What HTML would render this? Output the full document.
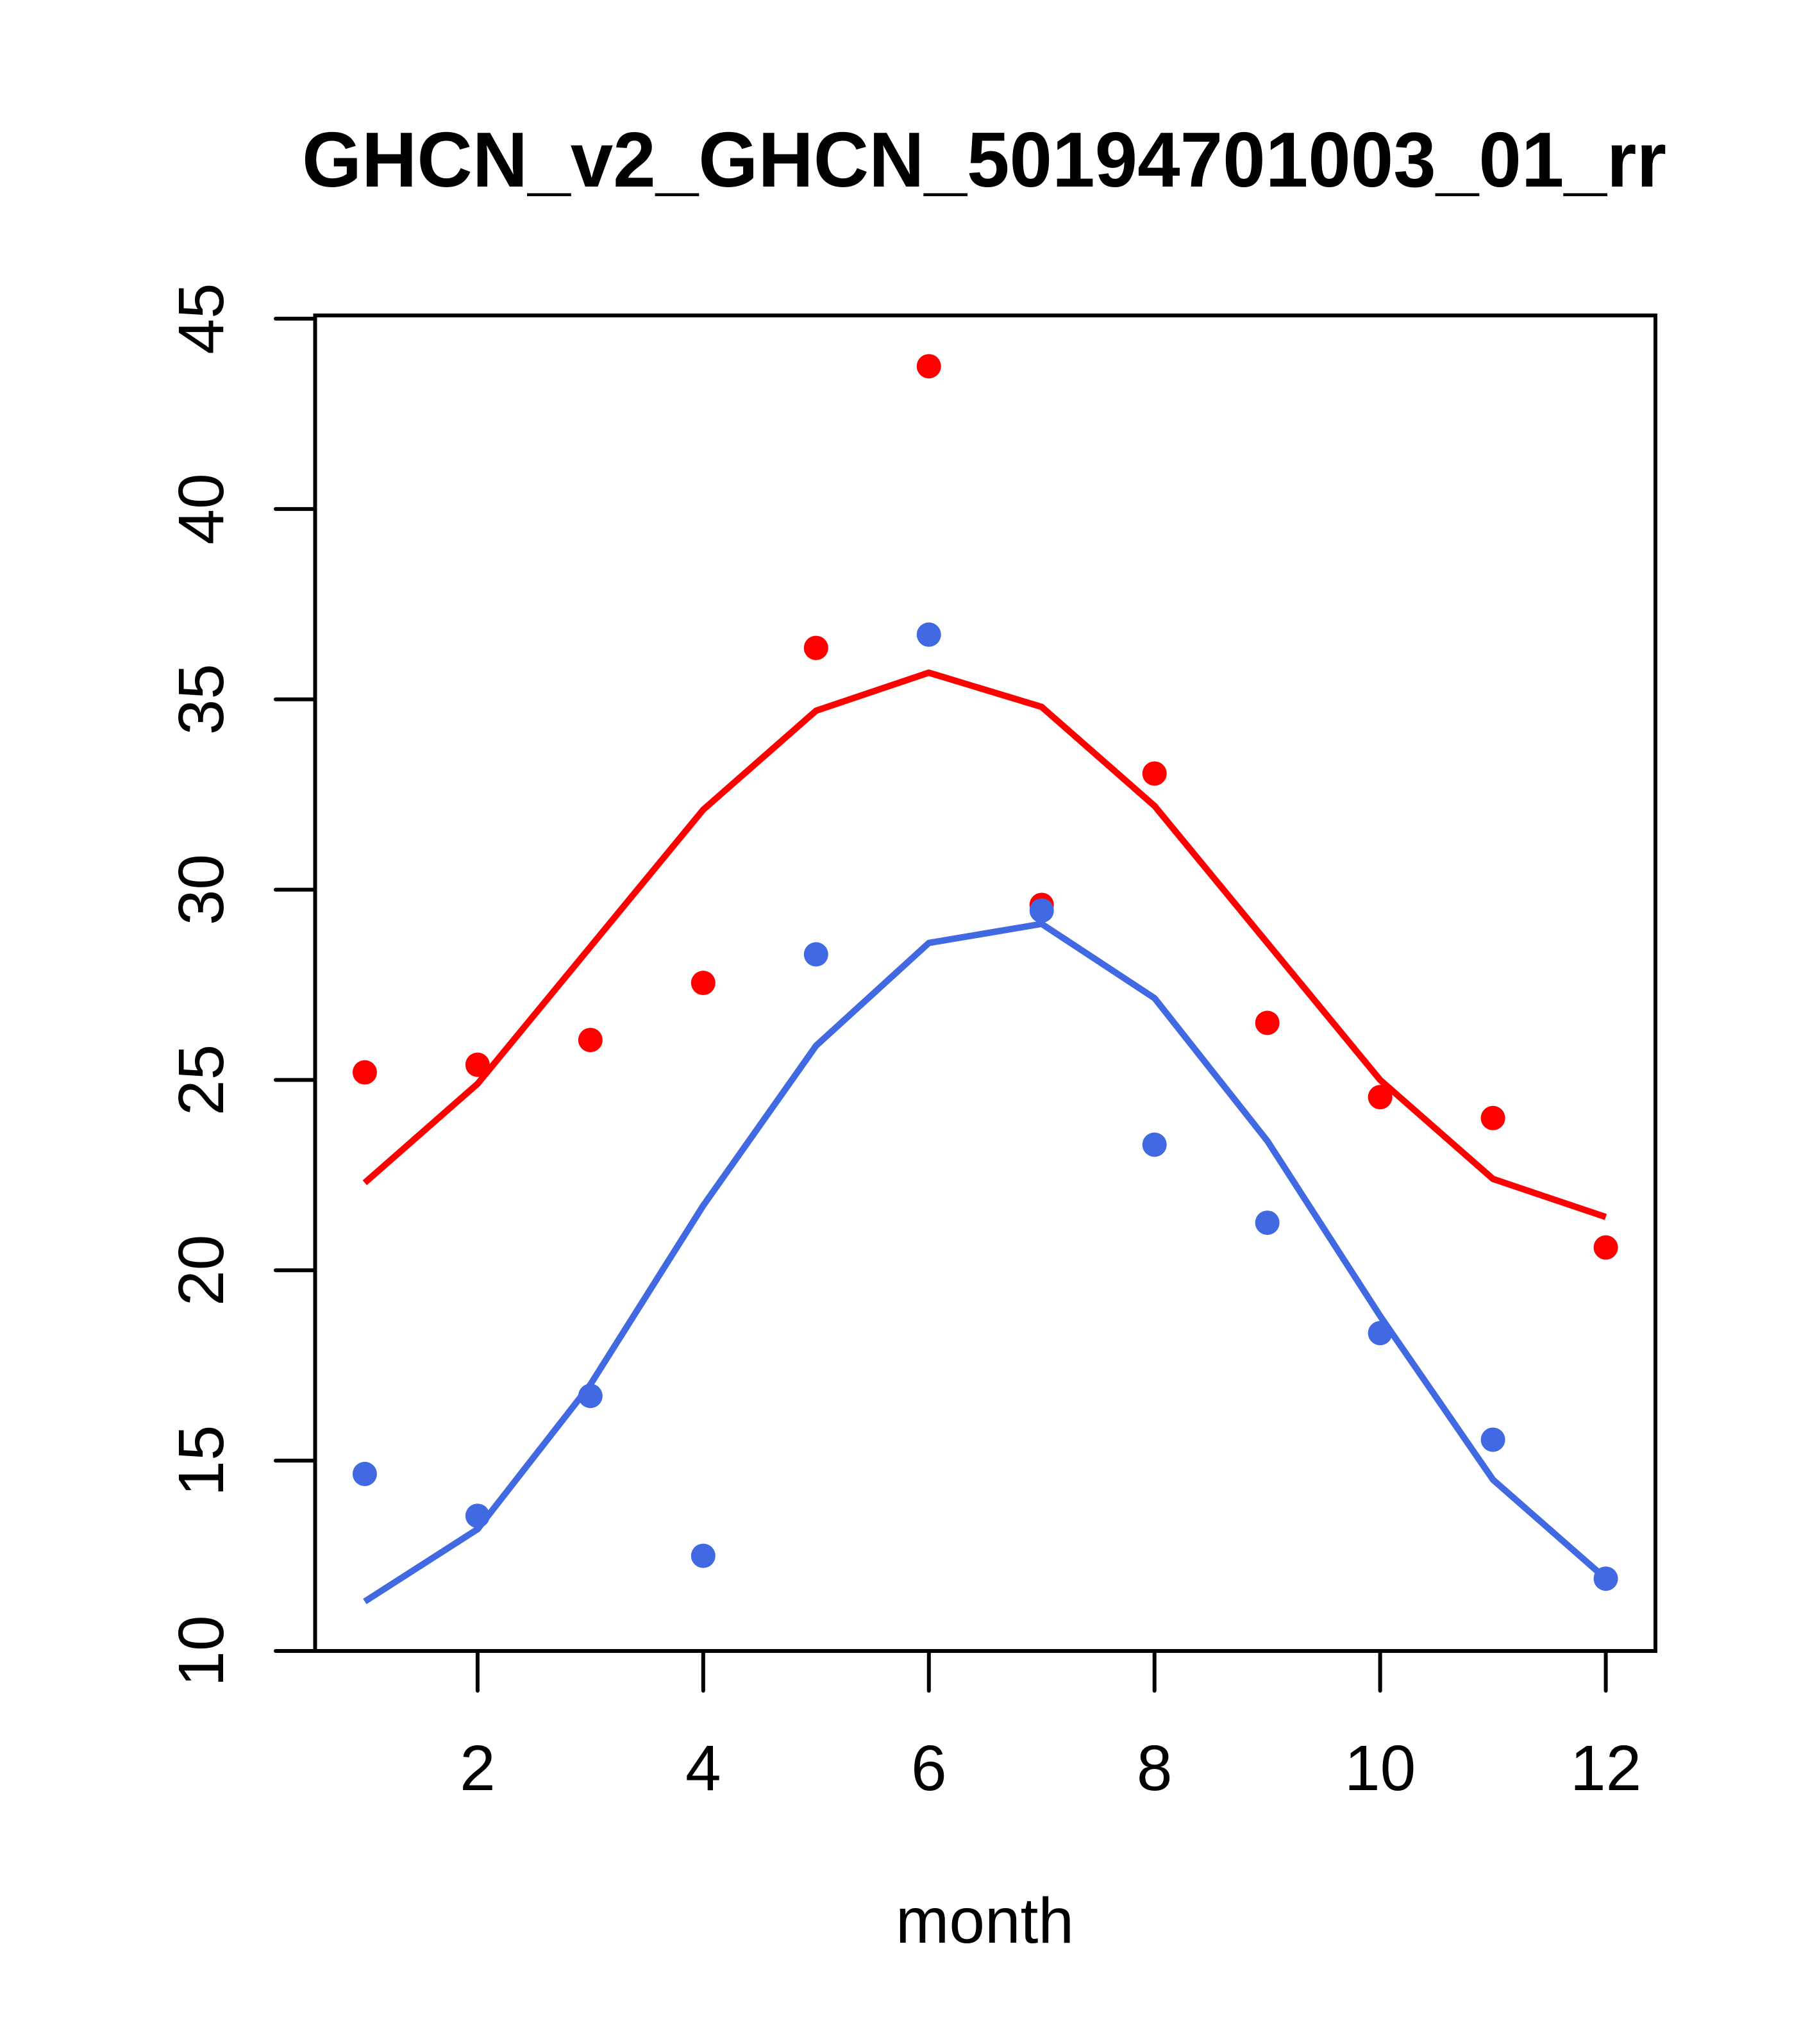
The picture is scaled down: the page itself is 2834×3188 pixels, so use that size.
<!DOCTYPE html>
<html><head><meta charset="utf-8"><style>
html,body{margin:0;padding:0;background:#fff;}
svg{display:block;font-family:"Liberation Sans",Arial,sans-serif;}
</style></head><body>
<svg id="chart" width="2834" height="3188" viewBox="0 0 2834 3188" xmlns="http://www.w3.org/2000/svg">
<rect width="2834" height="3188" fill="#fff"/>
<text x="1535" y="291" text-anchor="middle" font-size="122" font-weight="bold" textLength="2128" lengthAdjust="spacingAndGlyphs">GHCN_v2_GHCN_50194701003_01_rr</text>
<text x="1536" y="3030" text-anchor="middle" font-size="100">month</text>
<rect x="491.5" y="492" width="2090.5" height="2083" fill="none" stroke="#000" stroke-width="6"/>
<g id="axes"></g>
<g id="marks"></g>
</svg>
<script>
const months = [1,2,3,4,5,6,7,8,9,10,11,12];
const redPoints = [25.2,25.4,26.05,27.55,36.35,43.75,29.6,33.05,26.5,24.55,24.0,20.6];
const redLine = [22.3,24.9,28.5,32.1,34.7,35.7,34.8,32.2,28.6,25.0,22.4,21.4];
const bluePoints = [14.65,13.55,16.7,12.5,28.3,36.7,29.45,23.3,21.25,18.35,15.55,11.9];
const blueLine = [11.3,13.2,17.0,21.7,25.9,28.6,29.1,27.15,23.4,18.8,14.5,11.9];
const xTicks = [2,4,6,8,10,12];
const yTicks = [10,15,20,25,30,35,40,45];

const NS = "http://www.w3.org/2000/svg";
const X0 = 491.5, X1 = 2582, xmin = 0.56, xmax = 12.44;
function xs(v){ return X0 + (v - xmin) / (xmax - xmin) * (X1 - X0); }
const Y10 = 2575, Y45 = 497;
function ys(v){ return Y10 + (v - 10) / 35 * (Y45 - Y10); }
function mk(tag, attrs, parent){ const e = document.createElementNS(NS, tag); for (const k in attrs) e.setAttribute(k, attrs[k]); parent.appendChild(e); return e; }

const axes = document.getElementById('axes');
const marks = document.getElementById('marks');

xTicks.forEach(t => {
  const l = mk('line', {x1: xs(t), x2: xs(t), y1: 2575, y2: 2637, stroke: '#000', 'stroke-width': 6, 'stroke-linecap': 'round'}, axes);
  
  
  const tx = mk('text', {x: xs(t), y: 2792, 'text-anchor': 'middle', 'font-size': 100}, axes);
  tx.textContent = t;
  
  
});
yTicks.forEach(t => {
  const l = mk('line', {x1: 430, x2: 491.5, y1: ys(t), y2: ys(t), stroke: '#000', 'stroke-width': 6, 'stroke-linecap': 'round'}, axes);
  
  
  const tx = mk('text', {x: 0, y: 0, 'text-anchor': 'middle', 'font-size': 100, transform: 'translate(348,' + ys(t) + ') rotate(-90)'}, axes);
  tx.textContent = t;
  
  
});

function drawLine(vals, color, name){
  const p = mk('polyline', {points: vals.map((v,i) => xs(months[i]) + ',' + ys(v)).join(' '), fill: 'none', stroke: color, 'stroke-width': 10, 'stroke-linejoin': 'round'}, marks);
  
  
}
function drawPoints(vals, color, name){
  vals.forEach((v,i) => {
    const c = mk('circle', {cx: xs(months[i]), cy: ys(v), r: 19, fill: color}, marks);
    
    
  });
}
drawLine(redLine, '#ff0000', 'red-line');
drawLine(blueLine, '#4169e1', 'blue-line');
drawPoints(redPoints, '#ff0000', 'red-point');
drawPoints(bluePoints, '#4169e1', 'blue-point');
</script>
</body></html>
